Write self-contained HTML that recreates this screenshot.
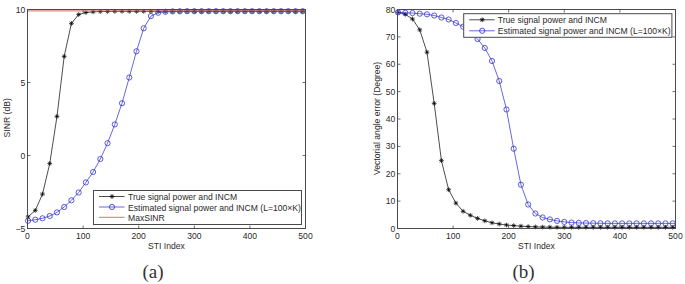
<!DOCTYPE html>
<html><head><meta charset="utf-8"><style>
html,body{margin:0;padding:0;background:#fff;width:685px;height:284px;overflow:hidden}
svg{display:block}
text{font-family:"Liberation Sans",sans-serif;font-size:8.6px;fill:#2a2a2a}
text.cap{font-family:"Liberation Serif",serif;font-size:19px;fill:#333}
</style></head><body>
<svg width="685" height="284" viewBox="0 0 685 284">
<path d="M28.06,216.90 L35.28,210.40 L42.51,194.10 L49.74,163.50 L56.97,116.40 L64.20,56.40 L71.42,23.40 L78.65,14.50 L85.88,12.50 L93.11,11.80 L100.34,11.50 L107.56,11.40 L114.79,11.30 L122.02,11.30 L129.25,11.30 L136.48,11.30 L143.70,11.30 L150.93,11.30 L158.16,11.30 L165.39,11.30 L172.62,11.30 L179.84,11.30 L187.07,11.30 L194.30,11.30 L201.53,11.30 L208.76,11.30 L215.98,11.30 L223.21,11.30 L230.44,11.30 L237.67,11.30 L244.90,11.30 L252.12,11.30 L259.35,11.30 L266.58,11.30 L273.81,11.30 L281.04,11.30 L288.26,11.30 L295.49,11.30 L302.72,11.30 L305.50,11.30" stroke="#000" stroke-width="0.7" fill="none"/><path d="M25.66,216.90h4.80M28.06,214.50v4.80M26.36,215.20l3.39,3.39M26.36,218.60l3.39,-3.39M32.88,210.40h4.80M35.28,208.00v4.80M33.59,208.70l3.39,3.39M33.59,212.10l3.39,-3.39M40.11,194.10h4.80M42.51,191.70v4.80M40.81,192.40l3.39,3.39M40.81,195.80l3.39,-3.39M47.34,163.50h4.80M49.74,161.10v4.80M48.04,161.80l3.39,3.39M48.04,165.20l3.39,-3.39M54.57,116.40h4.80M56.97,114.00v4.80M55.27,114.70l3.39,3.39M55.27,118.10l3.39,-3.39M61.80,56.40h4.80M64.20,54.00v4.80M62.50,54.70l3.39,3.39M62.50,58.10l3.39,-3.39M69.02,23.40h4.80M71.42,21.00v4.80M69.73,21.70l3.39,3.39M69.73,25.10l3.39,-3.39M76.25,14.50h4.80M78.65,12.10v4.80M76.95,12.80l3.39,3.39M76.95,16.20l3.39,-3.39M83.48,12.50h4.80M85.88,10.10v4.80M84.18,10.80l3.39,3.39M84.18,14.20l3.39,-3.39M90.71,11.80h4.80M93.11,9.40v4.80M91.41,10.10l3.39,3.39M91.41,13.50l3.39,-3.39M97.94,11.50h4.80M100.34,9.10v4.80M98.64,9.80l3.39,3.39M98.64,13.20l3.39,-3.39M105.16,11.40h4.80M107.56,9.00v4.80M105.87,9.70l3.39,3.39M105.87,13.10l3.39,-3.39M112.39,11.30h4.80M114.79,8.90v4.80M113.09,9.60l3.39,3.39M113.09,13.00l3.39,-3.39M119.62,11.30h4.80M122.02,8.90v4.80M120.32,9.60l3.39,3.39M120.32,13.00l3.39,-3.39M126.85,11.30h4.80M129.25,8.90v4.80M127.55,9.60l3.39,3.39M127.55,13.00l3.39,-3.39M134.08,11.30h4.80M136.48,8.90v4.80M134.78,9.60l3.39,3.39M134.78,13.00l3.39,-3.39M141.30,11.30h4.80M143.70,8.90v4.80M142.01,9.60l3.39,3.39M142.01,13.00l3.39,-3.39M148.53,11.30h4.80M150.93,8.90v4.80M149.23,9.60l3.39,3.39M149.23,13.00l3.39,-3.39M155.76,11.30h4.80M158.16,8.90v4.80M156.46,9.60l3.39,3.39M156.46,13.00l3.39,-3.39M162.99,11.30h4.80M165.39,8.90v4.80M163.69,9.60l3.39,3.39M163.69,13.00l3.39,-3.39M170.22,11.30h4.80M172.62,8.90v4.80M170.92,9.60l3.39,3.39M170.92,13.00l3.39,-3.39M177.44,11.30h4.80M179.84,8.90v4.80M178.15,9.60l3.39,3.39M178.15,13.00l3.39,-3.39M184.67,11.30h4.80M187.07,8.90v4.80M185.37,9.60l3.39,3.39M185.37,13.00l3.39,-3.39M191.90,11.30h4.80M194.30,8.90v4.80M192.60,9.60l3.39,3.39M192.60,13.00l3.39,-3.39M199.13,11.30h4.80M201.53,8.90v4.80M199.83,9.60l3.39,3.39M199.83,13.00l3.39,-3.39M206.36,11.30h4.80M208.76,8.90v4.80M207.06,9.60l3.39,3.39M207.06,13.00l3.39,-3.39M213.58,11.30h4.80M215.98,8.90v4.80M214.29,9.60l3.39,3.39M214.29,13.00l3.39,-3.39M220.81,11.30h4.80M223.21,8.90v4.80M221.51,9.60l3.39,3.39M221.51,13.00l3.39,-3.39M228.04,11.30h4.80M230.44,8.90v4.80M228.74,9.60l3.39,3.39M228.74,13.00l3.39,-3.39M235.27,11.30h4.80M237.67,8.90v4.80M235.97,9.60l3.39,3.39M235.97,13.00l3.39,-3.39M242.50,11.30h4.80M244.90,8.90v4.80M243.20,9.60l3.39,3.39M243.20,13.00l3.39,-3.39M249.72,11.30h4.80M252.12,8.90v4.80M250.43,9.60l3.39,3.39M250.43,13.00l3.39,-3.39M256.95,11.30h4.80M259.35,8.90v4.80M257.65,9.60l3.39,3.39M257.65,13.00l3.39,-3.39M264.18,11.30h4.80M266.58,8.90v4.80M264.88,9.60l3.39,3.39M264.88,13.00l3.39,-3.39M271.41,11.30h4.80M273.81,8.90v4.80M272.11,9.60l3.39,3.39M272.11,13.00l3.39,-3.39M278.64,11.30h4.80M281.04,8.90v4.80M279.34,9.60l3.39,3.39M279.34,13.00l3.39,-3.39M285.86,11.30h4.80M288.26,8.90v4.80M286.57,9.60l3.39,3.39M286.57,13.00l3.39,-3.39M293.09,11.30h4.80M295.49,8.90v4.80M293.79,9.60l3.39,3.39M293.79,13.00l3.39,-3.39M300.32,11.30h4.80M302.72,8.90v4.80M301.02,9.60l3.39,3.39M301.02,13.00l3.39,-3.39" stroke="#000" stroke-width="0.7" fill="none"/><path d="M28.06,220.80 L35.28,219.70 L42.51,218.30 L49.74,216.00 L56.97,212.40 L64.20,207.00 L71.42,200.30 L78.65,192.50 L85.88,182.40 L93.11,172.00 L100.34,159.00 L107.56,143.20 L114.79,124.40 L122.02,103.20 L129.25,77.50 L136.48,51.30 L143.70,28.30 L150.93,16.10 L158.16,12.70 L165.39,11.80 L172.62,11.40 L179.84,11.30 L187.07,11.20 L194.30,11.20 L201.53,11.20 L208.76,11.20 L215.98,11.20 L223.21,11.20 L230.44,11.20 L237.67,11.20 L244.90,11.20 L252.12,11.20 L259.35,11.20 L266.58,11.20 L273.81,11.20 L281.04,11.20 L288.26,11.20 L295.49,11.20 L302.72,11.20 L305.50,11.20" stroke="#2828cc" stroke-width="0.7" fill="none"/><g stroke="#2828cc" stroke-width="0.75" fill="none"><circle cx="28.06" cy="220.80" r="2.6"/><circle cx="35.28" cy="219.70" r="2.6"/><circle cx="42.51" cy="218.30" r="2.6"/><circle cx="49.74" cy="216.00" r="2.6"/><circle cx="56.97" cy="212.40" r="2.6"/><circle cx="64.20" cy="207.00" r="2.6"/><circle cx="71.42" cy="200.30" r="2.6"/><circle cx="78.65" cy="192.50" r="2.6"/><circle cx="85.88" cy="182.40" r="2.6"/><circle cx="93.11" cy="172.00" r="2.6"/><circle cx="100.34" cy="159.00" r="2.6"/><circle cx="107.56" cy="143.20" r="2.6"/><circle cx="114.79" cy="124.40" r="2.6"/><circle cx="122.02" cy="103.20" r="2.6"/><circle cx="129.25" cy="77.50" r="2.6"/><circle cx="136.48" cy="51.30" r="2.6"/><circle cx="143.70" cy="28.30" r="2.6"/><circle cx="150.93" cy="16.10" r="2.6"/><circle cx="158.16" cy="12.70" r="2.6"/><circle cx="165.39" cy="11.80" r="2.6"/><circle cx="172.62" cy="11.40" r="2.6"/><circle cx="179.84" cy="11.30" r="2.6"/><circle cx="187.07" cy="11.20" r="2.6"/><circle cx="194.30" cy="11.20" r="2.6"/><circle cx="201.53" cy="11.20" r="2.6"/><circle cx="208.76" cy="11.20" r="2.6"/><circle cx="215.98" cy="11.20" r="2.6"/><circle cx="223.21" cy="11.20" r="2.6"/><circle cx="230.44" cy="11.20" r="2.6"/><circle cx="237.67" cy="11.20" r="2.6"/><circle cx="244.90" cy="11.20" r="2.6"/><circle cx="252.12" cy="11.20" r="2.6"/><circle cx="259.35" cy="11.20" r="2.6"/><circle cx="266.58" cy="11.20" r="2.6"/><circle cx="273.81" cy="11.20" r="2.6"/><circle cx="281.04" cy="11.20" r="2.6"/><circle cx="288.26" cy="11.20" r="2.6"/><circle cx="295.49" cy="11.20" r="2.6"/><circle cx="302.72" cy="11.20" r="2.6"/></g><path d="M27.5,10.9H305.5" stroke="#e06a5a" stroke-width="1"/><rect x="27.5" y="9.5" width="278.0" height="219.0" fill="none" stroke="#4a4a4a" stroke-width="1"/><path d="M27.50,228.5v-3M27.50,9.5v3M83.10,228.5v-3M83.10,9.5v3M138.70,228.5v-3M138.70,9.5v3M194.30,228.5v-3M194.30,9.5v3M249.90,228.5v-3M249.90,9.5v3M305.50,228.5v-3M305.50,9.5v3M27.5,228.50h3M305.5,228.50h-3M27.5,155.50h3M305.5,155.50h-3M27.5,82.50h3M305.5,82.50h-3M27.5,9.50h3M305.5,9.50h-3" stroke="#4a4a4a" stroke-width="0.8" fill="none"/><text x="27.50" y="239.0" text-anchor="middle">0</text><text x="83.10" y="239.0" text-anchor="middle">100</text><text x="138.70" y="239.0" text-anchor="middle">200</text><text x="194.30" y="239.0" text-anchor="middle">300</text><text x="249.90" y="239.0" text-anchor="middle">400</text><text x="305.50" y="239.0" text-anchor="middle">500</text><text x="25.30" y="231.60" text-anchor="end">−5</text><text x="25.30" y="158.60" text-anchor="end">0</text><text x="25.30" y="85.60" text-anchor="end">5</text><text x="25.30" y="12.60" text-anchor="end">10</text><rect x="93.5" y="190.5" width="208" height="34" fill="#fff" stroke="#4a4a4a" stroke-width="1"/><path d="M99.0,196.5h25.5" stroke="#000" stroke-width="0.7"/><path d="M109.60,196.50h4.80M112.00,194.10v4.80M110.30,194.80l3.39,3.39M110.30,198.20l3.39,-3.39" stroke="#000" stroke-width="0.8"/><text x="128" y="200.00">True signal power and INCM</text><path d="M99.0,207h25.5" stroke="#2828cc" stroke-width="0.7"/><circle cx="112.0" cy="207" r="2.6" stroke="#2828cc" stroke-width="0.8" fill="none"/><text x="128" y="210.50">Estimated signal power and INCM (L=100×K)</text><path d="M99.0,217.3h25.5" stroke="#e03030" stroke-width="0.7"/><text x="128" y="220.80">MaxSINR</text><text x="166.5" y="248.8" text-anchor="middle">STI Index</text><text transform="translate(10.2,117.8) rotate(-90)" text-anchor="middle">SINR (dB)</text><text x="153" y="278" text-anchor="middle" class="cap">(a)</text><path d="M398.06,12.40 L405.28,14.30 L412.51,19.00 L419.74,29.80 L426.97,52.20 L434.20,103.40 L441.42,160.60 L448.65,189.70 L455.88,203.10 L463.11,211.30 L470.34,215.30 L477.56,218.40 L484.79,220.80 L492.02,222.80 L499.25,224.00 L506.48,225.00 L513.70,225.60 L520.93,226.20 L528.16,226.60 L535.39,226.90 L542.62,227.10 L549.84,227.20 L557.07,227.30 L564.30,227.30 L571.53,227.30 L578.76,227.30 L585.98,227.30 L593.21,227.30 L600.44,227.30 L607.67,227.30 L614.90,227.30 L622.12,227.30 L629.35,227.30 L636.58,227.30 L643.81,227.30 L651.04,227.30 L658.26,227.30 L665.49,227.30 L672.72,227.30 L675.50,227.30" stroke="#000" stroke-width="0.7" fill="none"/><path d="M395.66,12.40h4.80M398.06,10.00v4.80M396.36,10.70l3.39,3.39M396.36,14.10l3.39,-3.39M402.88,14.30h4.80M405.28,11.90v4.80M403.59,12.60l3.39,3.39M403.59,16.00l3.39,-3.39M410.11,19.00h4.80M412.51,16.60v4.80M410.81,17.30l3.39,3.39M410.81,20.70l3.39,-3.39M417.34,29.80h4.80M419.74,27.40v4.80M418.04,28.10l3.39,3.39M418.04,31.50l3.39,-3.39M424.57,52.20h4.80M426.97,49.80v4.80M425.27,50.50l3.39,3.39M425.27,53.90l3.39,-3.39M431.80,103.40h4.80M434.20,101.00v4.80M432.50,101.70l3.39,3.39M432.50,105.10l3.39,-3.39M439.02,160.60h4.80M441.42,158.20v4.80M439.73,158.90l3.39,3.39M439.73,162.30l3.39,-3.39M446.25,189.70h4.80M448.65,187.30v4.80M446.95,188.00l3.39,3.39M446.95,191.40l3.39,-3.39M453.48,203.10h4.80M455.88,200.70v4.80M454.18,201.40l3.39,3.39M454.18,204.80l3.39,-3.39M460.71,211.30h4.80M463.11,208.90v4.80M461.41,209.60l3.39,3.39M461.41,213.00l3.39,-3.39M467.94,215.30h4.80M470.34,212.90v4.80M468.64,213.60l3.39,3.39M468.64,217.00l3.39,-3.39M475.16,218.40h4.80M477.56,216.00v4.80M475.87,216.70l3.39,3.39M475.87,220.10l3.39,-3.39M482.39,220.80h4.80M484.79,218.40v4.80M483.09,219.10l3.39,3.39M483.09,222.50l3.39,-3.39M489.62,222.80h4.80M492.02,220.40v4.80M490.32,221.10l3.39,3.39M490.32,224.50l3.39,-3.39M496.85,224.00h4.80M499.25,221.60v4.80M497.55,222.30l3.39,3.39M497.55,225.70l3.39,-3.39M504.08,225.00h4.80M506.48,222.60v4.80M504.78,223.30l3.39,3.39M504.78,226.70l3.39,-3.39M511.30,225.60h4.80M513.70,223.20v4.80M512.01,223.90l3.39,3.39M512.01,227.30l3.39,-3.39M518.53,226.20h4.80M520.93,223.80v4.80M519.23,224.50l3.39,3.39M519.23,227.90l3.39,-3.39M525.76,226.60h4.80M528.16,224.20v4.80M526.46,224.90l3.39,3.39M526.46,228.30l3.39,-3.39M532.99,226.90h4.80M535.39,224.50v4.80M533.69,225.20l3.39,3.39M533.69,228.60l3.39,-3.39M540.22,227.10h4.80M542.62,224.70v4.80M540.92,225.40l3.39,3.39M540.92,228.80l3.39,-3.39M547.44,227.20h4.80M549.84,224.80v4.80M548.15,225.50l3.39,3.39M548.15,228.90l3.39,-3.39M554.67,227.30h4.80M557.07,224.90v4.80M555.37,225.60l3.39,3.39M555.37,229.00l3.39,-3.39M561.90,227.30h4.80M564.30,224.90v4.80M562.60,225.60l3.39,3.39M562.60,229.00l3.39,-3.39M569.13,227.30h4.80M571.53,224.90v4.80M569.83,225.60l3.39,3.39M569.83,229.00l3.39,-3.39M576.36,227.30h4.80M578.76,224.90v4.80M577.06,225.60l3.39,3.39M577.06,229.00l3.39,-3.39M583.58,227.30h4.80M585.98,224.90v4.80M584.29,225.60l3.39,3.39M584.29,229.00l3.39,-3.39M590.81,227.30h4.80M593.21,224.90v4.80M591.51,225.60l3.39,3.39M591.51,229.00l3.39,-3.39M598.04,227.30h4.80M600.44,224.90v4.80M598.74,225.60l3.39,3.39M598.74,229.00l3.39,-3.39M605.27,227.30h4.80M607.67,224.90v4.80M605.97,225.60l3.39,3.39M605.97,229.00l3.39,-3.39M612.50,227.30h4.80M614.90,224.90v4.80M613.20,225.60l3.39,3.39M613.20,229.00l3.39,-3.39M619.72,227.30h4.80M622.12,224.90v4.80M620.43,225.60l3.39,3.39M620.43,229.00l3.39,-3.39M626.95,227.30h4.80M629.35,224.90v4.80M627.65,225.60l3.39,3.39M627.65,229.00l3.39,-3.39M634.18,227.30h4.80M636.58,224.90v4.80M634.88,225.60l3.39,3.39M634.88,229.00l3.39,-3.39M641.41,227.30h4.80M643.81,224.90v4.80M642.11,225.60l3.39,3.39M642.11,229.00l3.39,-3.39M648.64,227.30h4.80M651.04,224.90v4.80M649.34,225.60l3.39,3.39M649.34,229.00l3.39,-3.39M655.86,227.30h4.80M658.26,224.90v4.80M656.57,225.60l3.39,3.39M656.57,229.00l3.39,-3.39M663.09,227.30h4.80M665.49,224.90v4.80M663.79,225.60l3.39,3.39M663.79,229.00l3.39,-3.39M670.32,227.30h4.80M672.72,224.90v4.80M671.02,225.60l3.39,3.39M671.02,229.00l3.39,-3.39" stroke="#000" stroke-width="0.7" fill="none"/><path d="M398.06,12.40 L405.28,12.80 L412.51,13.10 L419.74,13.70 L426.97,14.30 L434.20,15.50 L441.42,17.50 L448.65,19.50 L455.88,23.00 L463.11,26.70 L470.34,32.50 L477.56,39.00 L484.79,48.00 L492.02,61.00 L499.25,81.00 L506.48,109.50 L513.70,148.70 L520.93,184.70 L528.16,204.50 L535.39,213.50 L542.62,217.50 L549.84,219.40 L557.07,220.90 L564.30,221.90 L571.53,222.60 L578.76,222.90 L585.98,223.10 L593.21,223.20 L600.44,223.30 L607.67,223.40 L614.90,223.40 L622.12,223.40 L629.35,223.40 L636.58,223.40 L643.81,223.40 L651.04,223.40 L658.26,223.40 L665.49,223.40 L672.72,223.40 L675.50,223.40" stroke="#2828cc" stroke-width="0.7" fill="none"/><g stroke="#2828cc" stroke-width="0.75" fill="none"><circle cx="398.06" cy="12.40" r="2.6"/><circle cx="405.28" cy="12.80" r="2.6"/><circle cx="412.51" cy="13.10" r="2.6"/><circle cx="419.74" cy="13.70" r="2.6"/><circle cx="426.97" cy="14.30" r="2.6"/><circle cx="434.20" cy="15.50" r="2.6"/><circle cx="441.42" cy="17.50" r="2.6"/><circle cx="448.65" cy="19.50" r="2.6"/><circle cx="455.88" cy="23.00" r="2.6"/><circle cx="463.11" cy="26.70" r="2.6"/><circle cx="470.34" cy="32.50" r="2.6"/><circle cx="477.56" cy="39.00" r="2.6"/><circle cx="484.79" cy="48.00" r="2.6"/><circle cx="492.02" cy="61.00" r="2.6"/><circle cx="499.25" cy="81.00" r="2.6"/><circle cx="506.48" cy="109.50" r="2.6"/><circle cx="513.70" cy="148.70" r="2.6"/><circle cx="520.93" cy="184.70" r="2.6"/><circle cx="528.16" cy="204.50" r="2.6"/><circle cx="535.39" cy="213.50" r="2.6"/><circle cx="542.62" cy="217.50" r="2.6"/><circle cx="549.84" cy="219.40" r="2.6"/><circle cx="557.07" cy="220.90" r="2.6"/><circle cx="564.30" cy="221.90" r="2.6"/><circle cx="571.53" cy="222.60" r="2.6"/><circle cx="578.76" cy="222.90" r="2.6"/><circle cx="585.98" cy="223.10" r="2.6"/><circle cx="593.21" cy="223.20" r="2.6"/><circle cx="600.44" cy="223.30" r="2.6"/><circle cx="607.67" cy="223.40" r="2.6"/><circle cx="614.90" cy="223.40" r="2.6"/><circle cx="622.12" cy="223.40" r="2.6"/><circle cx="629.35" cy="223.40" r="2.6"/><circle cx="636.58" cy="223.40" r="2.6"/><circle cx="643.81" cy="223.40" r="2.6"/><circle cx="651.04" cy="223.40" r="2.6"/><circle cx="658.26" cy="223.40" r="2.6"/><circle cx="665.49" cy="223.40" r="2.6"/><circle cx="672.72" cy="223.40" r="2.6"/></g><rect x="397.5" y="9.5" width="278.0" height="219.0" fill="none" stroke="#4a4a4a" stroke-width="1"/><path d="M397.50,228.5v-3M397.50,9.5v3M453.10,228.5v-3M453.10,9.5v3M508.70,228.5v-3M508.70,9.5v3M564.30,228.5v-3M564.30,9.5v3M619.90,228.5v-3M619.90,9.5v3M675.50,228.5v-3M675.50,9.5v3M397.5,228.50h3M675.5,228.50h-3M397.5,201.12h3M675.5,201.12h-3M397.5,173.75h3M675.5,173.75h-3M397.5,146.38h3M675.5,146.38h-3M397.5,119.00h3M675.5,119.00h-3M397.5,91.62h3M675.5,91.62h-3M397.5,64.25h3M675.5,64.25h-3M397.5,36.88h3M675.5,36.88h-3M397.5,9.50h3M675.5,9.50h-3" stroke="#4a4a4a" stroke-width="0.8" fill="none"/><text x="397.50" y="239.0" text-anchor="middle">0</text><text x="453.10" y="239.0" text-anchor="middle">100</text><text x="508.70" y="239.0" text-anchor="middle">200</text><text x="564.30" y="239.0" text-anchor="middle">300</text><text x="619.90" y="239.0" text-anchor="middle">400</text><text x="675.50" y="239.0" text-anchor="middle">500</text><text x="395.30" y="231.60" text-anchor="end">0</text><text x="395.30" y="204.22" text-anchor="end">10</text><text x="395.30" y="176.85" text-anchor="end">20</text><text x="395.30" y="149.47" text-anchor="end">30</text><text x="395.30" y="122.10" text-anchor="end">40</text><text x="395.30" y="94.72" text-anchor="end">50</text><text x="395.30" y="67.35" text-anchor="end">60</text><text x="395.30" y="39.98" text-anchor="end">70</text><text x="395.30" y="12.60" text-anchor="end">80</text><rect x="463.7" y="13.7" width="208.2" height="23.6" fill="#fff" stroke="#4a4a4a" stroke-width="1"/><path d="M469.2,19.8h25.5" stroke="#000" stroke-width="0.7"/><path d="M479.80,19.80h4.80M482.20,17.40v4.80M480.50,18.10l3.39,3.39M480.50,21.50l3.39,-3.39" stroke="#000" stroke-width="0.8"/><text x="497.8" y="23.30">True signal power and INCM</text><path d="M469.2,30.8h25.5" stroke="#2828cc" stroke-width="0.7"/><circle cx="482.2" cy="30.8" r="2.6" stroke="#2828cc" stroke-width="0.8" fill="none"/><text x="497.8" y="34.30">Estimated signal power and INCM (L=100×K)</text><text x="536.5" y="248.8" text-anchor="middle">STI Index</text><text transform="translate(380,118.4) rotate(-90)" text-anchor="middle">Vectorial angle error (Degree)</text><text x="523.5" y="278" text-anchor="middle" class="cap">(b)</text>
</svg>
</body></html>
